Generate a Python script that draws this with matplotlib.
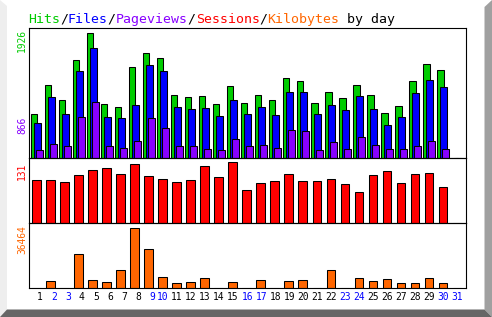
import matplotlib
matplotlib.use('Agg')
import matplotlib.pyplot as plt
from matplotlib.patches import Polygon

# ---------------- data ----------------
days = list(range(1, 32))
hits = [685, 1129, 889, 1512, 1926, 838, 792, 1404, 1619, 1542, 976, 945, 960, 838, 1113,
        853, 976, 889, 1236, 1180, 853, 1021, 929, 1129, 976, 700, 807, 1190, 1450, 1358, 0]
files = [547, 945, 685, 1343, 1695, 638, 623, 822, 1435, 1333, 792, 751, 776, 654, 899,
         685, 792, 669, 1021, 1021, 685, 822, 746, 960, 761, 516, 638, 1006, 1205, 1098, 0]
pages = [133, 225, 184, 638, 866, 184, 153, 271, 613, 470, 194, 194, 148, 133, 301,
         194, 210, 163, 439, 424, 133, 255, 148, 332, 210, 148, 148, 194, 271, 148, 0]
sessions = [93, 93, 88, 104, 114, 118, 105, 127, 101, 96, 88, 92, 122, 99, 131,
            71, 86, 90, 105, 90, 90, 94, 84, 66, 103, 112, 86, 105, 107, 77, 0]
kbytes = [0, 4600, 0, 20840, 5220, 4020, 11230, 36464, 23840, 7030, 3420, 4020, 6430, 0, 4020,
          0, 5220, 0, 4600, 5220, 0, 11230, 0, 6430, 4600, 5830, 3420, 3420, 6430, 3420, 0]
weekend_days = [2, 3, 9, 10, 16, 17, 23, 24, 30, 31]
title_parts = [("Hits", '#00cc00'), ("/", 'black'), ("Files", '#0000ff'), ("/", 'black'),
               ("Pageviews", '#8800ff'), ("/", 'black'), ("Sessions", '#ff0000'), ("/", 'black'),
               ("Kilobytes", '#ff6600'), (" by day", 'black')]
ymax_labels = ["1926", "866", "131", "36464"]

# ---------------- figure ----------------
W, H = 492, 317
fig = plt.figure(figsize=(W / 100, H / 100), dpi=100)
fig.patch.set_facecolor('white')

def P(x, y):
    return (x / W, 1 - y / H)

# frame bevels
fig.add_artist(Polygon([P(0, 0), P(7, 6), P(7, 310), P(0, 317)], closed=True,
                       facecolor='#eeeeee', edgecolor='none', transform=fig.transFigure))
fig.add_artist(Polygon([P(492, 0), P(484.5, 7), P(484.5, 309.5), P(492, 317)], closed=True,
                       facecolor='#a0a0a0', edgecolor='none', transform=fig.transFigure))
fig.add_artist(Polygon([P(7, 309.5), P(484.5, 309.5), P(492, 317), P(0, 317)], closed=True,
                       facecolor='#666666', edgecolor='none', transform=fig.transFigure))

left_px, right_px = 28.5, 465.7
slot = 14.01
first_slot_px = 31.0

def ax_px(top, bottom):
    return fig.add_axes([left_px / W, 1 - bottom / H, (right_px - left_px) / W, (bottom - top) / H])

ax1 = ax_px(28.3, 158.3)
ax2 = ax_px(158.3, 223.0)
ax3 = ax_px(223.0, 288.3)

# x in units of slots: slot d spans [d-0.5, d+0.5]
x_lo = 0.5 + (left_px - first_slot_px) / slot
x_hi = 0.5 + (right_px - first_slot_px) / slot
lw = 0.75
sl = [d - 0.5 for d in days]

ax1.bar([s + 0.0 for s in sl], hits, width=0.45, align='edge', color='#00cc00', edgecolor='black', linewidth=lw)
ax1.bar([s + 0.214 for s in sl], files, width=0.5, align='edge', color='#0000ff', edgecolor='black', linewidth=lw)
ax1.bar([s + 0.357 for s in sl], pages, width=0.476, align='edge', color='#8800ff', edgecolor='black', linewidth=lw)
ax1.set_ylim(0, max(hits) * 130.0 / 125.7)

ax2.bar([s + 0.093 for s in sl], sessions, width=0.6, align='edge', color='#ff0000', edgecolor='black', linewidth=lw)
ax2.set_ylim(0, max(sessions) * 64.7 / 60.7)

ax3.bar([s + 0.093 for s in sl], kbytes, width=0.6, align='edge', color='#ff6600', edgecolor='black', linewidth=lw)
ax3.set_ylim(0, max(kbytes) * 65.3 / 60.7)

for ax in (ax1, ax2, ax3):
    ax.set_xlim(x_lo, x_hi)
    ax.set_xticks([])
    ax.set_yticks([])
    for sp in ax.spines.values():
        sp.set_linewidth(0.8)
        sp.set_color('black')
    ax.set_facecolor('none')

mono = 'DejaVu Sans Mono'
# day labels, right aligned in each slot
for d, s in zip(days, sl):
    col = '#0000ff' if d in weekend_days else 'black'
    ax3.text(s + 0.835, -0.14, str(d), transform=ax3.get_xaxis_transform(), ha='right', va='center',
             fontsize=6.9, family=mono, color=col)

# title
adv = 0.602 * 13.26
cx = 28.0
for txt, col in title_parts:
    fig.text(cx / W, 1 - 23 / H, txt, ha='left', va='baseline', fontsize=9.55, family=mono, color=col)
    cx += len(txt) * adv

# rotated max labels
label_cols = ['#00cc00', '#8800ff', '#ff0000', '#ff6600']
label_tops = [29.0, 117.0, 163.0, 225.0]
for t, c, ytop in zip(ymax_labels, label_cols, label_tops):
    fig.text(22 / W, 1 - ytop / H, t, rotation=90, ha='center', va='top', fontsize=6.9,
             family=mono, color=c)

fig.savefig('out.png', dpi=100)
